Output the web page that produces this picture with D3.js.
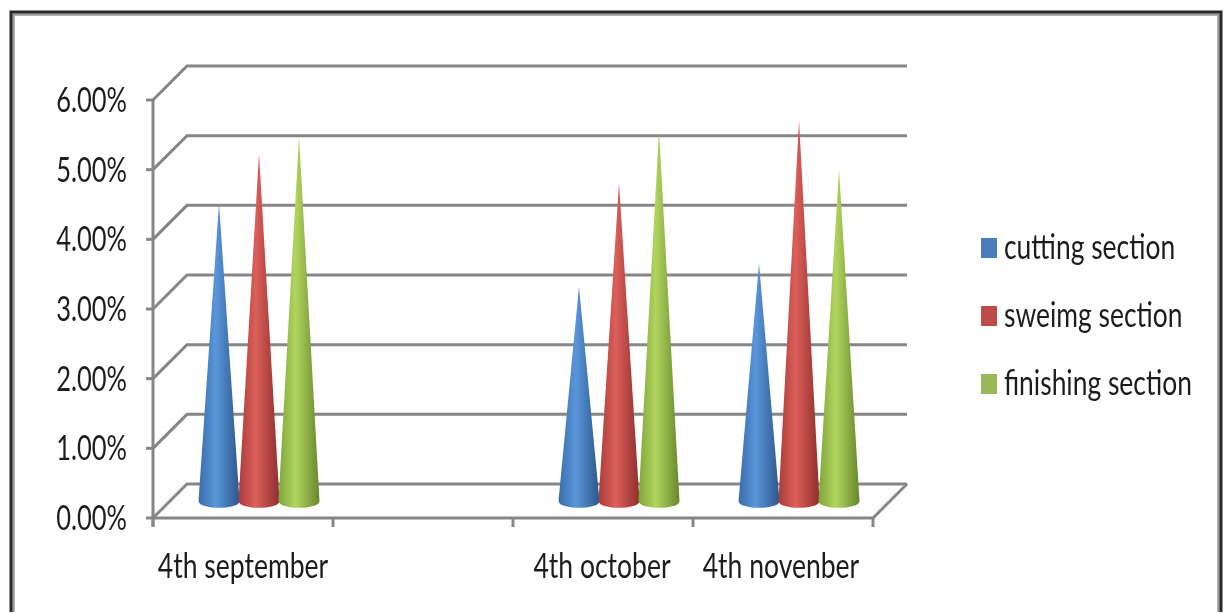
<!DOCTYPE html>
<html>
<head>
<meta charset="utf-8">
<script src="https://cdn.jsdelivr.net/npm/d3@7"></script>
<style>
  html, body { margin: 0; padding: 0; background: #fff; }
  svg { display: block; }
  text { font-family: Lato, "Open Sans", sans-serif; fill: #1f1f1f; }
</style>
</head>
<body>
<div id="chart"></div>
<script>
const categories = ['4th september', '', '4th october', '4th novenber']
const seriesNames = ['cutting section', 'sweimg section', 'finishing section']
const cuttingValues = [4.27, null, 3.08, 3.41]
const sweimgValues = [4.98, null, 4.56, 5.46]
const finishingValues = [5.23, null, 5.31, 4.76]
const yTicks = [0, 1, 2, 3, 4, 5, 6]
const colors = [
  ['#3a6cab', '#5a96da', '#2c578c'],
  ['#a93d3a', '#dc5f5a', '#8e2f2c'],
  ['#7fa53a', '#b2d55f', '#67862c']
]
const legendColors = ['#4a7ebb', '#be4b48', '#98b954']

const w = 1225, h = 614
const depth = 34, baseRx = 20.5, baseRy = 7
const xFront = [153, 873], yFront = [518, 100]

const svg = d3.select('#chart').append('svg').attr('width', w).attr('height', h)
const defs = svg.append('defs')

// the reference is a soft, upscaled bitmap
defs.append('filter').attr('id', 'soft').append('feGaussianBlur').attr('stdDeviation', 0.7)

colors.forEach((c, i) => {
  const g = defs.append('linearGradient').attr('id', `cone${i}`)
  g.selectAll('stop').data(c).enter().append('stop')
    .attr('offset', (d, j) => ['0%', '42%', '100%'][j]).attr('stop-color', d => d)
})

// frame: dark outer line, grey inner line, open at the bottom
const frame = svg.append('g').attr('fill', 'none')
frame.append('path').attr('d', 'M13.5,612V14.5H1218.5V612').attr('stroke', '#9a9a9a').attr('stroke-width', 2.5)
frame.append('path').attr('d', 'M11,612V12H1221V612').attr('stroke', '#2a2a2a').attr('stroke-width', 3)

const x = d3.scaleBand().domain(d3.range(categories.length)).range(xFront)
const y = d3.scaleLinear().domain([0, 6]).range(yFront)
const inner = d3.scaleBand().domain(d3.range(seriesNames.length)).range([0, 120])

const root = svg.append('g').attr('filter', 'url(#soft)')
const grid = root.append('g').attr('fill', 'none').attr('stroke', '#868686').attr('stroke-width', 3)

// back walls and floor
yTicks.forEach(t => {
  grid.append('path').attr('d', `M${xFront[0]},${y(t)}L${xFront[0] + depth},${y(t) - depth}H${xFront[1] + depth}`)
  grid.append('path').attr('d', `M${xFront[0] - 7},${y(t)}H${xFront[0]}`)
})
grid.append('path').attr('d', `M${xFront[0]},${yFront[1]}V${yFront[0] + 8}`)
grid.append('path').attr('d', `M${xFront[0]},${yFront[0]}H${xFront[1]}L${xFront[1] + depth},${yFront[0] - depth}`)
d3.range(categories.length + 1).forEach(i => {
  const tx = i < categories.length ? x(i) : xFront[1]
  grid.append('path').attr('d', `M${tx},${yFront[0]}V${yFront[0] + 9}`)
})

// cones
const lift = 17
const baseY = y(0) - lift
const allValues = [cuttingValues, sweimgValues, finishingValues]
allValues.forEach((vals, s) => {
  const pts = vals.map((v, i) => ({ v, i })).filter(d => d.v !== null)
  root.append('g').selectAll('path').data(pts).enter().append('path')
    .attr('fill', `url(#cone${s})`)
    .attr('d', d => {
      const cx = x(d.i) + x.bandwidth() / 2 + depth / 2 - 60 + inner(s) + inner.bandwidth() / 2 - 1
      const p = d3.path()
      p.moveTo(cx, y(d.v) - lift)
      p.lineTo(cx + baseRx, baseY)
      p.bezierCurveTo(cx + baseRx, baseY + baseRy * 1.3, cx - baseRx, baseY + baseRy * 1.3, cx - baseRx, baseY)
      p.closePath()
      return p.toString()
    })
})

// y labels
root.append('g').selectAll('text').data(yTicks).enter().append('text')
  .attr('transform', d => `translate(127,${y(d) + 12}) scale(0.75,1)`)
  .attr('text-anchor', 'end').attr('font-size', 34)
  .text(d => d3.format('.2f')(d) + '%')

// x labels
const labelX = [243, 0, 602, 781]
root.append('g').selectAll('text').data(categories).enter().append('text')
  .attr('transform', (d, i) => `translate(${labelX[i]},578) scale(0.78,1)`)
  .attr('text-anchor', 'middle').attr('font-size', 34)
  .text(d => d)

// legend
const legend = root.append('g').selectAll('g').data(seriesNames).enter().append('g')
  .attr('transform', (d, i) => `translate(981,${238 + i * 68})`)
legend.append('rect').attr('width', 16).attr('height', 20)
  .attr('fill', (d, i) => legendColors[i])
legend.append('text').attr('transform', 'translate(23,21) scale(0.777,1)')
  .attr('font-size', 34).text(d => d)
</script>
</body>
</html>
